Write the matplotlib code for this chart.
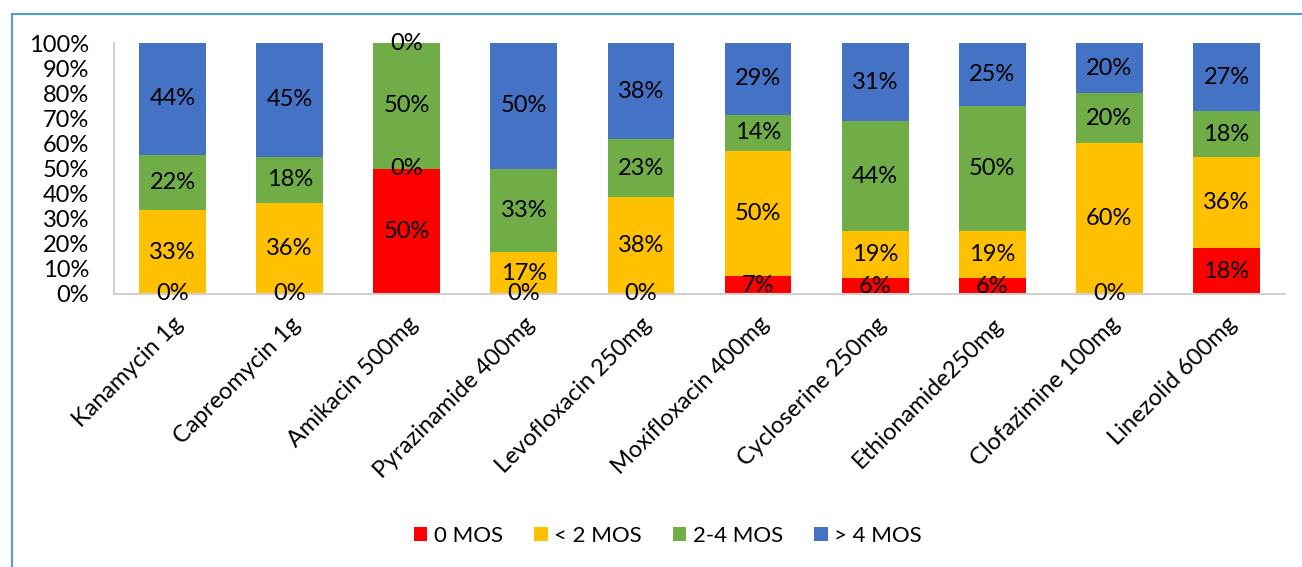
import matplotlib
matplotlib.use("Agg")
import matplotlib.pyplot as plt
from matplotlib.patches import Rectangle
import numpy as np

drugs = ["Kanamycin 1g", "Capreomycin 1g", "Amikacin 500mg", "Pyrazinamide 400mg",
         "Levofloxacin 250mg", "Moxifloxacin 400mg", "Cycloserine 250mg",
         "Ethionamide250mg", "Clofazimine 100mg", "Linezolid 600mg"]
series = ["0 MOS", "< 2 MOS", "2-4 MOS", "> 4 MOS"]
mos0 = [0, 0, 50, 0, 0, 7.1, 6.25, 6.25, 0, 18.2]
lt2 = [33.3, 36.4, 0, 16.7, 38.5, 50, 18.75, 18.75, 60, 36.4]
mid = [22.2, 18.2, 50, 33.3, 23.1, 14.3, 43.75, 50, 20, 18.2]
gt4 = [44.4, 45.4, 0, 50, 38.5, 28.6, 31.25, 25, 20, 27.3]
colors = ["#FF0000", "#FFC000", "#70AD47", "#4472C4"]

plt.rcParams["font.family"] = ["Lato", "DejaVu Sans"]
fs = 17
fig = plt.figure(figsize=(13.02, 5.67), dpi=100)
ax = fig.add_axes([114 / 1302, 1 - 294 / 567, (1285 - 114) / 1302, (294 - 43) / 567])

x = np.arange(len(drugs))
bottom = np.zeros(len(drugs))
for vals, name, c in zip([mos0, lt2, mid, gt4], series, colors):
    v = np.array(vals, dtype=float)
    ax.bar(x, v, 0.57, bottom=bottom, color=c, label=name)
    for xi, b, h in zip(x, bottom, v):
        ax.text(xi, b + h / 2, f"{h:.0f}%", ha="center", va="center", fontsize=fs)
    bottom += v

ax.set_xlim(-0.5, len(drugs) - 0.5)
ax.set_ylim(0, 100)
ax.set_yticks(np.arange(0, 101, 10))
ax.set_yticklabels([f"{t}%" for t in range(0, 101, 10)], fontsize=fs)
ax.set_xticks(x)
ax.set_xticklabels(drugs, rotation=45, ha="right", rotation_mode="anchor", fontsize=fs)
ax.tick_params(axis="y", length=0, pad=18)
ax.tick_params(axis="x", length=0, pad=14)
for s in ["top", "right"]:
    ax.spines[s].set_visible(False)
for s in ["left", "bottom"]:
    ax.spines[s].set_color("#D0D0D0")
    ax.spines[s].set_linewidth(1.5)

fig.legend(loc="center", bbox_to_anchor=(668 / 1302, 1 - 536 / 567), ncol=4, frameon=False,
           fontsize=16, handlelength=0.6, handleheight=0.6, handletextpad=0.3,
           columnspacing=1.4)

fig.patches.append(Rectangle((12 / 1302, -0.1), 1.2, 1 - 14 / 567 + 0.1, transform=fig.transFigure,
                             fill=False, edgecolor="#5B9BD5", linewidth=1.5))

fig.savefig("out.png", dpi=100)
